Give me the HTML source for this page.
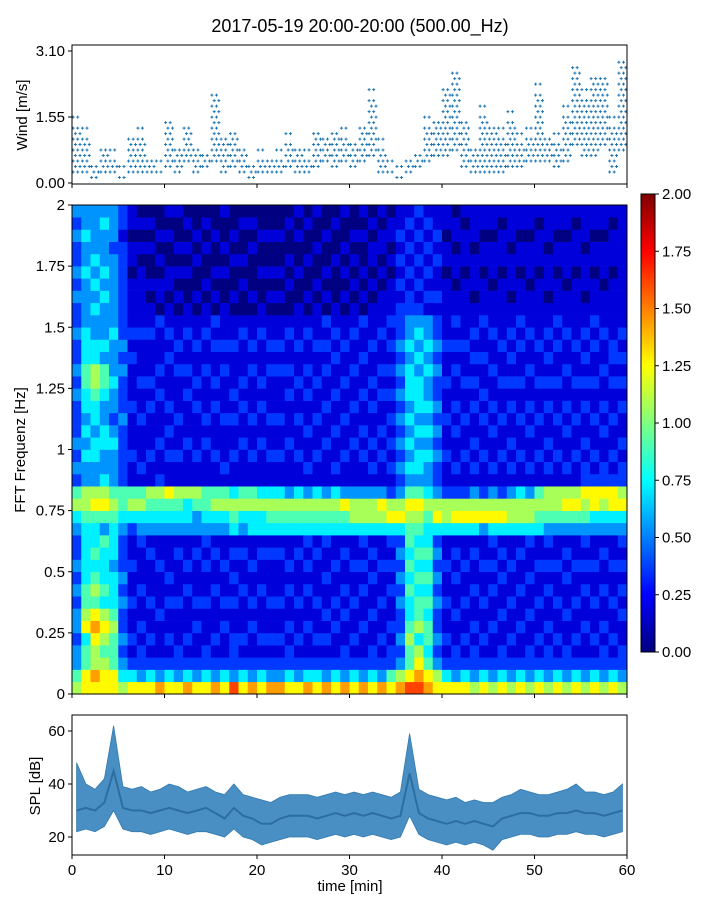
<!DOCTYPE html>
<html><head><meta charset="utf-8"><style>
body{margin:0;background:#fff;}
svg{display:block;font-family:"Liberation Sans","DejaVu Sans",sans-serif;}
</style></head><body>
<svg id="fig" width="720" height="900" xmlns="http://www.w3.org/2000/svg">
<defs>
<linearGradient id="jet" x1="0" y1="1" x2="0" y2="0">
<stop offset="0" stop-color="#00007f"/><stop offset="0.125" stop-color="#0000ff"/>
<stop offset="0.375" stop-color="#00ffff"/><stop offset="0.625" stop-color="#ffff00"/><stop offset="0.875" stop-color="#ff0000"/><stop offset="1" stop-color="#7f0000"/>
</linearGradient>
</defs>
<text x="360" y="32" text-anchor="middle" font-size="18">2017-05-19 20:00-20:00 (500.00_Hz)</text>
<g id="wind"></g>
<g id="spec"></g>
<g id="cbar"></g>
<g id="spl"></g>
</svg>
<script>
const windLo=[0.3,0.2,0.1,0.2,0.3,0.1,0.2,0.3,0.2,0.3,0.4,0.3,0.5,0.3,0.4,0.5,0.3,0.4,0.2,0.1,0.3,0.2,0.3,0.4,0.3,0.2,0.4,0.5,0.4,0.5,0.4,0.5,0.6,0.3,0.2,0.1,0.2,0.4,0.5,0.6,0.7,0.8,0.4,0.2,0.2,0.2,0.3,0.4,0.4,0.5,0.5,0.5,0.4,0.5,0.9,0.6,0.6,0.9,0.3,0.8];
const windHi=[1.6,1.3,0.6,0.9,0.8,0.5,1.2,1.3,0.7,0.6,1.6,1.0,1.5,1.0,0.9,2.2,1.2,1.3,0.9,0.6,0.8,0.7,0.8,1.2,1.0,0.8,1.3,1.2,1.4,1.3,1.1,1.5,2.3,1.1,0.6,0.5,0.7,0.9,1.6,1.6,2.4,2.8,1.6,1.0,1.9,1.5,1.4,1.7,1.2,1.4,2.4,1.2,1.2,1.9,2.9,2.2,2.7,2.7,1.6,3.0];
const windTicks=[0,1.55,3.10];
const windTickLabels=["0.00","1.55","3.10"];
const freqTicks=[0,0.25,0.5,0.75,1,1.25,1.5,1.75,2];
const freqTickLabels=["0","0.25","0.5","0.75","1","1.25","1.5","1.75","2"];
const cbarTicks=[0,0.25,0.5,0.75,1,1.25,1.5,1.75,2];
const timeTicks=[0,10,20,30,40,50,60];
const splTicks=[20,40,60];
const splMean=[30,31,30,33,45,31,30,30,29,30,31,30,29,30,31,29,27,31,28,27,25,25,27,28,28,28,27,28,29,28,29,28,29,28,27,28,44,29,27,26,25,26,25,26,25,24,27,28,29,29,28,28,29,29,30,29,29,28,29,30];
const splLo=[22,23,22,24,30,23,22,22,21,22,23,22,21,22,22,21,20,23,20,19,17,18,19,20,20,20,19,20,21,20,21,20,21,20,19,20,28,21,19,18,17,18,17,18,17,15,19,20,21,21,20,20,21,21,22,21,21,20,21,22];
const splHi=[48,40,38,42,62,39,38,39,37,38,40,39,37,38,39,37,36,40,36,35,34,33,35,36,36,36,35,36,37,36,37,36,37,36,35,37,59,38,36,35,34,35,33,34,33,33,35,36,38,37,36,36,37,38,40,37,37,36,37,40];
const specCols=[
"653"+"3233232322"+"34652"+"3232223232232"+"232322323",
"775"+"5476554444"+"45663"+"3434344554443"+"333433433",
"786"+"6787565454"+"45763"+"3443445664433"+"434343333",
"776"+"5676454445"+"35764"+"3344334553433"+"343433343",
"775"+"5565444344"+"45653"+"3343233433343"+"333332333",
"643"+"2322323222"+"34552"+"2222322232322"+"222222122",
"742"+"1211211211"+"24651"+"1211121112121"+"111011011",
"732"+"2121121112"+"34651"+"2111211211121"+"111101010",
"742"+"1211211121"+"34561"+"1211121211121"+"101001010",
"832"+"1112111211"+"34562"+"1121112121112"+"011010100",
"742"+"1211212111"+"34571"+"1212121112121"+"101100101",
"732"+"2111211121"+"34561"+"1211211121211"+"010101001",
"842"+"1211121211"+"34461"+"1121112121121"+"100101010",
"732"+"1121211121"+"33561"+"1211121211211"+"010010100",
"742"+"2111211212"+"34551"+"1121211121121"+"101001010",
"832"+"1211121121"+"34651"+"1211121211212"+"010100100",
"742"+"1121211211"+"34651"+"2111211121211"+"100101001",
"932"+"2211212121"+"45641"+"1211212111211"+"010010100",
"742"+"1211121121"+"34651"+"1121121211121"+"001010010",
"832"+"1121211211"+"44651"+"1211211121211"+"010001010",
"742"+"1211121121"+"44641"+"1121121211121"+"100100100",
"832"+"1211211121"+"45641"+"1211211121211"+"010100100",
"832"+"1211211121"+"45641"+"1211211121211"+"010100100",
"742"+"2121121211"+"45631"+"1121112121121"+"001010010",
"732"+"1211211121"+"45641"+"1211211211211"+"100100101",
"842"+"1121121212"+"45631"+"2112112121121"+"010010010",
"742"+"1211211121"+"45641"+"1211211211211"+"101001001",
"832"+"1212112112"+"45631"+"1121121121212"+"010100100",
"742"+"1121211211"+"45641"+"2112112112121"+"100010010",
"832"+"2112121121"+"45731"+"1211211211211"+"010101001",
"742"+"1211211211"+"46631"+"1121121121121"+"101010100",
"832"+"1121121212"+"46631"+"1212112112112"+"010100101",
"742"+"2112112121"+"46631"+"2121121211211"+"101011010",
"832"+"1211211211"+"46731"+"1212112121121"+"110101101",
"752"+"2121121212"+"47621"+"2121212121212"+"111010110",
"863"+"2322323232"+"47632"+"3232323232322"+"212121211",
"975"+"5654454545"+"56753"+"4343434443433"+"221212121",
"987"+"6465545454"+"56753"+"4434344434343"+"212121212",
"875"+"4554545454"+"45643"+"3434343343433"+"121212121",
"763"+"2322323232"+"47632"+"2323232232322"+"121121211",
"742"+"1211211211"+"46621"+"1211211211211"+"111011011",
"732"+"2112112121"+"47621"+"2112121121212"+"110110110",
"742"+"1211211211"+"47621"+"1211211211211"+"111011101",
"632"+"2121121121"+"47631"+"2121121212121"+"101110111",
"742"+"1211211211"+"37621"+"1211212112112"+"111011011",
"632"+"1121121212"+"47631"+"2112121121121"+"110111011",
"742"+"2112112121"+"47621"+"1211211211211"+"111011101",
"632"+"1211211211"+"46631"+"2121121212121"+"101110111",
"742"+"1121121121"+"46641"+"1211211211212"+"111011011",
"632"+"2112112112"+"46631"+"2112121121121"+"110111011",
"742"+"1211211211"+"45651"+"1211211211211"+"111011101",
"632"+"2121121212"+"35661"+"2121121212121"+"101110111",
"742"+"1211211211"+"35661"+"1211211211212"+"111011011",
"632"+"2112112121"+"35761"+"2112121121121"+"110111011",
"742"+"1211211211"+"35761"+"1211211211211"+"111011101",
"632"+"1121121212"+"35672"+"2121121212121"+"101110111",
"742"+"1211211211"+"34772"+"1211211211212"+"111011011",
"632"+"2121121121"+"34672"+"2112121121121"+"110111011",
"742"+"1211211211"+"34772"+"1211211212211"+"111011101",
"632"+"2112121212"+"34762"+"2121121212121"+"111111111"
];
const NS="http://www.w3.org/2000/svg";
function mk(parent,tag,attrs){const e=document.createElementNS(NS,tag);for(const k in attrs)e.setAttribute(k,attrs[k]);parent.appendChild(e);return e;}
const X0=72,X1=627;
const xs=t=>X0+(t/60)*(X1-X0);
function jet(v){v=Math.max(0,Math.min(1,v));
 const f=x=>Math.max(0,Math.min(1,x));
 const r=f(1.5-Math.abs(4*v-3)),g=f(1.5-Math.abs(4*v-2)),b=f(1.5-Math.abs(4*v-1));
 return `rgb(${Math.round(r*255)},${Math.round(g*255)},${Math.round(b*255)})`;}
function frame(g,y0,y1,name){const r=mk(g,'rect',{x:X0,y:y0,width:X1-X0,height:y1-y0,fill:'none',stroke:'#000','stroke-width':1});
 
 }
function yTicks(g,vals,labels,ys,name){vals.forEach((v,i)=>{const y=ys(v);mk(g,'line',{x1:X0-4,x2:X0,y1:y,y2:y,stroke:'#000'});
 const t=mk(g,'text',{x:X0-7,y:y+5,'text-anchor':'end','font-size':15});t.textContent=labels[i];
 
 });}
function xTicks(g,y,withLabels){timeTicks.forEach(v=>{const x=xs(v);mk(g,'line',{x1:x,x2:x,y1:y,y2:y+4,stroke:'#000'});
 if(withLabels){const t=mk(g,'text',{x:x,y:y+20,'text-anchor':'middle','font-size':15});t.textContent=v;
 
 }});}
// wind
(function(){const g=document.getElementById('wind');const y0=45,y1=184;const ys=v=>183-v*(132/3.1);
 let d='';const step=0.129;
 for(let m=0;m<60;m++){for(let s=0;s<4;s++){const x=xs(m+s/4+0.12);
  let k=0;
  for(let v=Math.round(windLo[m]/step)*step;v<=windHi[m]+0.001;v+=step){k++;
   if((s+k)%2===0)continue;
   if(s%2===1&&v>windHi[m]-0.25)continue;
   const y=ys(v);d+=`M${(x-1.5).toFixed(1)} ${y.toFixed(1)}h3M${x.toFixed(1)} ${(y-1.5).toFixed(1)}v3`;}}}
 const p=mk(g,'path',{d:d,stroke:'#1f77b4','stroke-width':1,fill:'none'});
 
 
 frame(g,y0,y1,'wind-axes-frame');
 yTicks(g,windTicks,windTickLabels,ys,'wind-y-tick-label');
 xTicks(g,y1,false);
 const l=mk(g,'text',{transform:'translate(27,115) rotate(-90)','text-anchor':'middle','font-size':15});l.textContent='Wind [m/s]';
 
 
})();
// spectrogram
(function(){const g=document.getElementById('spec');const y0=205,y1=694;const ys=f=>y1-(f/2)*(y1-y0);
 const nR=40,df=2/nR;
 specCols.forEach((col,c)=>{for(let r=0;r<nR;r++){const v=(+col[r])*0.18;
  const x=xs(c),w=xs(c+1)-x,yt=ys((r+1)*df),h=ys(r*df)-yt;
  const e=mk(g,'rect',{x:x.toFixed(2),y:yt.toFixed(2),width:(w+0.3).toFixed(2),height:(h+0.3).toFixed(2),fill:jet(v/2)});
  
  }});
 frame(g,y0,y1,'spectrogram-axes-frame');
 yTicks(g,freqTicks,freqTickLabels,ys,'freq-tick-label');
 xTicks(g,y1,false);
 const l=mk(g,'text',{transform:'translate(25,450) rotate(-90)','text-anchor':'middle','font-size':15});l.textContent='FFT Frequenz [Hz]';
 
 
})();
// colorbar
(function(){const g=document.getElementById('cbar');const y0=194,y1=652,x=641,w=14;
 const r=mk(g,'rect',{x:x,y:y0,width:w,height:y1-y0,fill:'url(#jet)',stroke:'#000','stroke-width':1});
 
 
 cbarTicks.forEach(v=>{const y=y1-(v/2)*(y1-y0);mk(g,'line',{x1:x+w,x2:x+w+4,y1:y,y2:y,stroke:'#000'});
  const t=mk(g,'text',{x:x+w+7,y:y+5,'font-size':15});t.textContent=v.toFixed(2);
  
  });
})();
// SPL
(function(){const g=document.getElementById('spl');const y0=715,y1=855;const ys=v=>837-(v-20)*(106/40);
 let top='',bot='';
 for(let m=0;m<60;m++){top+=`${m?'L':'M'}${xs(m+0.5).toFixed(1)} ${ys(splHi[m]).toFixed(1)}`;}
 for(let m=59;m>=0;m--){bot+=`L${xs(m+0.5).toFixed(1)} ${ys(splLo[m]).toFixed(1)}`;}
 const a=mk(g,'path',{d:top+bot+'Z',fill:'#4a8fc3',stroke:'#2f79b0','stroke-width':0.8});
 
 
 let dm='';for(let m=0;m<60;m++){dm+=`${m?'L':'M'}${xs(m+0.5).toFixed(1)} ${ys(splMean[m]).toFixed(1)}`;}
 const ln=mk(g,'path',{d:dm,fill:'none',stroke:'#1f5f93','stroke-width':2,'stroke-opacity':0.7});
 
 
 frame(g,y0,y1,'spl-axes-frame');
 yTicks(g,splTicks,["20","40","60"],ys,'spl-y-tick-label');
 xTicks(g,y1,true);
 const l=mk(g,'text',{transform:'translate(40,786) rotate(-90)','text-anchor':'middle','font-size':15});l.textContent='SPL [dB]';
 
 
 const xl=mk(g,'text',{x:350,y:891,'text-anchor':'middle','font-size':15});xl.textContent='time [min]';
 
 
})();
</script>
</body></html>
